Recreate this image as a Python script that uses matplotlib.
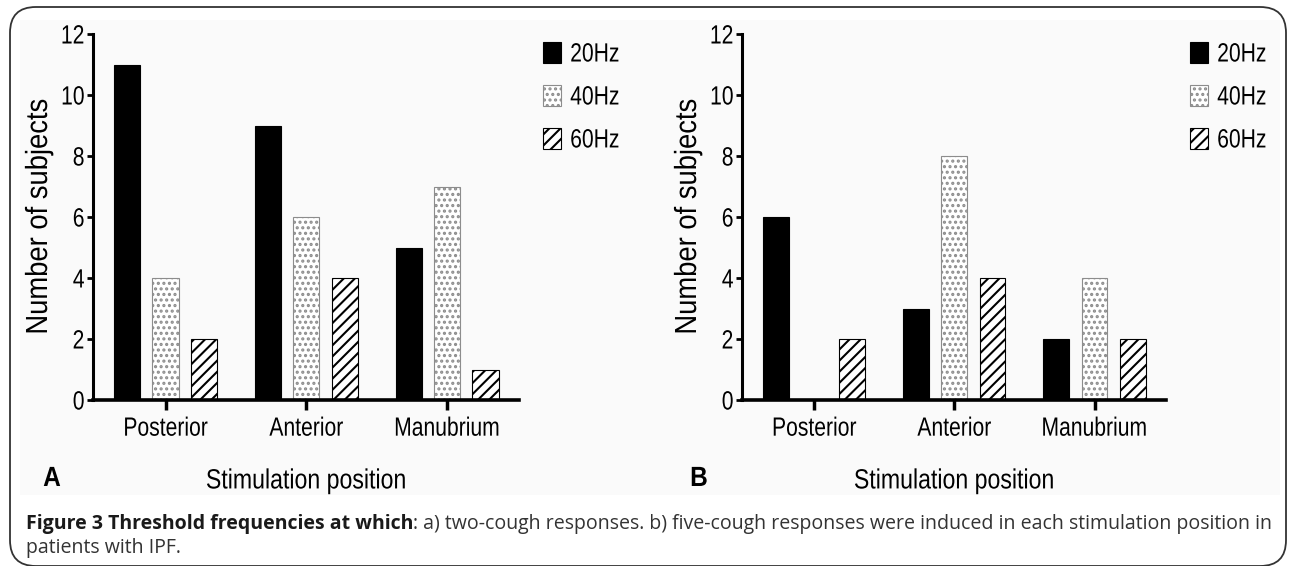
import numpy as np
import matplotlib
matplotlib.use("Agg")
import matplotlib.pyplot as plt
from matplotlib import font_manager
from matplotlib.patches import FancyBboxPatch, Rectangle
from matplotlib.patheffects import AbstractPathEffect
from matplotlib.transforms import Affine2D

# --------------------------------------------------
# Data
# --------------------------------------------------

positions = ["Posterior", "Anterior", "Manubrium"]
freqs = ["20Hz", "40Hz", "60Hz"]

# panel A: two-cough responses
two_cough = {
    "20Hz": [11, 9, 5],
    "40Hz": [4, 6, 7],
    "60Hz": [2, 4, 1],
}

# panel B: five-cough responses
five_cough = {
    "20Hz": [6, 3, 2],
    "40Hz": [0, 8, 4],
    "60Hz": [2, 4, 2],
}

yticks = [0, 2, 4, 6, 8, 10, 12]

caption_bold = "Figure 3 Threshold frequencies at which"
caption_rest = (": a) two-cough responses. b) five-cough responses were induced "
                "in each stimulation position in")
caption_line2 = "patients with IPF."


# --------------------------------------------------
# Fonts / style
# --------------------------------------------------

names = {f.name for f in font_manager.fontManager.ttflist}
has_narrow = "Liberation Sans Narrow" in names
narrow = "Liberation Sans Narrow" if has_narrow else "Liberation Sans"
print("chart font:", narrow)

plt.rcParams["font.family"] = [narrow, "DejaVu Sans"]
plt.rcParams["hatch.linewidth"] = 1.5

W, H = 1292, 566
fs = 19
squeeze = 1.0 if has_narrow else 0.8


class Condensed(AbstractPathEffect):
    # squeeze glyphs horizontally (Arial Narrow look) around an anchor
    def __init__(self, sx, anchor=0.5):
        super().__init__()
        self.sx = sx
        self.anchor = anchor

    def draw_path(self, renderer, gc, tpath, affine, rgbFace=None):
        v = tpath.vertices
        xc = 0
        if len(v):
            x0, x1 = v[:, 0].min(), v[:, 0].max()
            xc = x0 + self.anchor * (x1 - x0)
        tr = Affine2D().translate(-xc, 0).scale(self.sx, 1).translate(xc, 0) + affine
        renderer.draw_path(gc, tpath, tr, rgbFace)


def cond(anchor, k=1.0):
    return [Condensed(min(1.0, squeeze * k), anchor)]


def fx(px):
    return px / W


def fy(py):
    return 1 - py / H


styles = {
    "20Hz": dict(color="black", edgecolor="black", hatch=None),
    "40Hz": dict(color="white", edgecolor="#8c8c8c", hatch="..."),
    "60Hz": dict(color="white", edgecolor="black", hatch="///"),
}

fig = plt.figure(figsize=(W / 100, H / 100), dpi=100)

# rounded frame + light panel background
fig.patches.append(Rectangle((fx(20), fy(495)), fx(1280) - fx(20), fy(20) - fy(495),
                             transform=fig.transFigure, facecolor="#fafafa",
                             edgecolor="none", zorder=-5))
fig.patches.append(FancyBboxPatch((fx(10), fy(566)), fx(1286) - fx(10), fy(7) - fy(566),
                                  boxstyle="round,pad=0,rounding_size=0.02",
                                  transform=fig.transFigure, facecolor="none",
                                  edgecolor="#333333", linewidth=1.3, zorder=1,
                                  mutation_aspect=W / H))


def draw_panel(left, right, data, letter, letter_x, legend_x):
    ax = fig.add_axes([fx(left), fy(400), fx(right) - fx(left), fy(34) - fy(400)])
    ax.set_facecolor("none")
    x = np.arange(len(positions))
    width = 0.185
    pitch = 0.272
    for i, f in enumerate(freqs):
        st = styles[f]
        ax.bar(x + (i - 1) * pitch, data[f], width, color=st["color"],
               edgecolor=st["edgecolor"], hatch=st["hatch"], linewidth=0.8,
               label=f, zorder=2)

    ax.set_xlim(-0.515, 2.51)
    ax.set_ylim(0, 12)
    ax.set_yticks(yticks)
    ax.set_xticks(x)
    ax.set_xticklabels(positions, fontsize=fs)
    ax.tick_params(axis="y", labelsize=fs, length=4, width=2, pad=2)
    ax.tick_params(axis="x", length=7, width=2.5, pad=5)
    for s in ["top", "right"]:
        ax.spines[s].set_visible(False)
    ax.spines["left"].set_linewidth(2.2)
    ax.spines["bottom"].set_linewidth(2.6)
    for t in ax.get_xticklabels():
        t.set_path_effects(cond(0.5))
    for t in ax.get_yticklabels():
        t.set_path_effects(cond(1.0))

    ax.set_ylabel("Number of subjects", fontsize=22,
                  path_effects=cond(0.5, 1.12))
    ax.yaxis.set_label_coords(-54 / (right - left), 0.5)
    ax.yaxis.label.set_va("center")
    ax.set_xlabel("Stimulation position", fontsize=20, labelpad=20,
                  path_effects=cond(0.5, 1.04))

    fig.text(fx(letter_x), fy(479), letter, fontsize=20, fontweight="bold",
             ha="center", va="center", path_effects=cond(0.5, 1.1))

    leg = ax.legend(loc="upper left", bbox_to_anchor=(fx(legend_x), fy(42)),
                    bbox_transform=fig.transFigure, frameon=False, fontsize=fs,
                    handlelength=0.68, handleheight=0.83, handletextpad=0.35,
                    labelspacing=0.7, borderaxespad=0, borderpad=0)
    for t in leg.get_texts():
        t.set_path_effects(cond(0.0))
    return ax


draw_panel(93, 519, two_cough, "A", 52, 543)
draw_panel(742, 1166, five_cough, "B", 699, 1190)

# caption
cap_font = ["Open Sans", "DejaVu Sans"]
cap_fs = 14.05
t1 = fig.text(fx(26), fy(529), caption_bold, fontsize=cap_fs, fontweight="bold",
              family=cap_font, color="#1a1a1a", va="baseline", ha="left")
fig.canvas.draw()
bb = t1.get_window_extent()
fig.text(bb.x1 / W, fy(529), caption_rest, fontsize=cap_fs, family=cap_font,
         color="#333333", va="baseline", ha="left")
fig.text(fx(26), fy(553), caption_line2, fontsize=cap_fs, family=cap_font,
         color="#333333", va="baseline", ha="left")

fig.savefig("out.png", dpi=100)
